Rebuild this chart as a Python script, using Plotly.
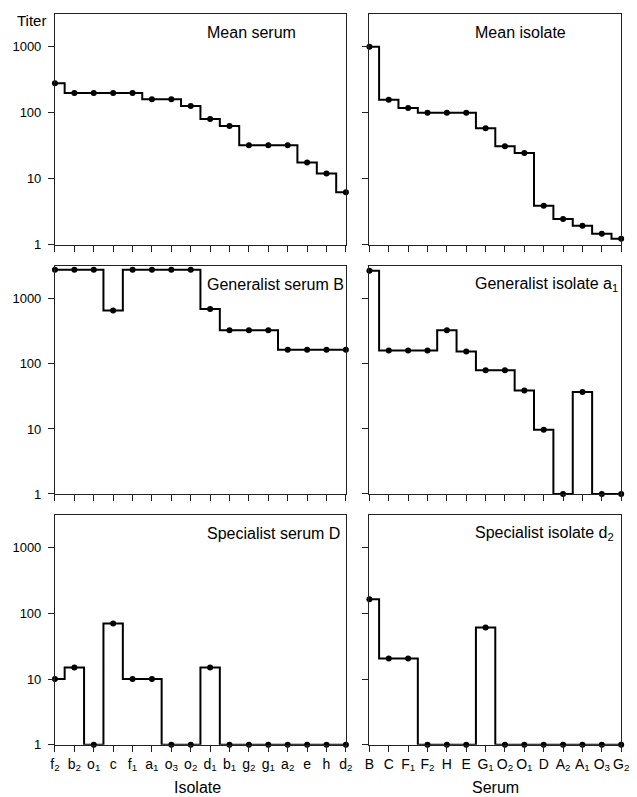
import plotly.graph_objects as go

W, H = 637, 797

isolates = ["f<sub>2</sub>", "b<sub>2</sub>", "o<sub>1</sub>", "c", "f<sub>1</sub>", "a<sub>1</sub>",
            "o<sub>3</sub>", "o<sub>2</sub>", "d<sub>1</sub>", "b<sub>1</sub>", "g<sub>2</sub>",
            "g<sub>1</sub>", "a<sub>2</sub>", "e", "h", "d<sub>2</sub>"]
sera = ["B", "C", "F<sub>1</sub>", "F<sub>2</sub>", "H", "E", "G<sub>1</sub>", "O<sub>2</sub>",
        "O<sub>1</sub>", "D", "A<sub>2</sub>", "A<sub>1</sub>", "O<sub>3</sub>", "G<sub>2</sub>"]

mean_serum = [281, 200, 200, 200, 200, 160, 160, 126, 80, 63, 32, 32, 32, 17.5, 12, 6.2]
mean_isolate = [1000, 157, 118, 100, 100, 100, 58, 31, 24.5, 3.86, 2.43, 1.93, 1.46, 1.22]
generalist_serum_B = [2800, 2800, 2800, 660, 2800, 2800, 2800, 2800, 700, 330, 330, 330, 165, 165, 165, 165]
generalist_isolate_a1 = [2700, 160, 160, 160, 330, 155, 80, 80, 39, 9.7, 1, 37, 1, 1]
specialist_serum_D = [10, 15, 1, 70, 10, 10, 1, 1, 15, 1, 1, 1, 1, 1, 1, 1]
specialist_isolate_d2 = [164, 20.6, 20.6, 1, 1, 1, 61, 1, 1, 1, 1, 1, 1, 1]

titles = ["Mean serum", "Mean isolate",
          "Generalist serum B", "Generalist isolate a<sub>1</sub>",
          "Specialist serum D", "Specialist isolate d<sub>2</sub>"]

panels = [
    (isolates, mean_serum), (sera, mean_isolate),
    (isolates, generalist_serum_B), (sera, generalist_isolate_a1),
    (isolates, specialist_serum_D), (sera, specialist_isolate_d2),
]

FONT = "Liberation Sans, Arial, Helvetica, sans-serif"

# pixel layout
col_px = [(51, 348), (372, 629)]
row_px = [(14, 247), (269, 499), (520, 752.3)]

def px_x(p):
    return p / W

def px_y(p):
    return 1 - p / H

fig = go.Figure()
layout = dict(
    width=W, height=H, margin=dict(l=0, r=0, t=0, b=0),
    paper_bgcolor="white", plot_bgcolor="white",
    showlegend=False, font=dict(family=FONT, color="black", size=14),
    annotations=[],
)

for i, (cats, vals) in enumerate(panels):
    r, c = divmod(i, 2)
    k = i + 1
    xname = "x" if k == 1 else f"x{k}"
    yname = "y" if k == 1 else f"y{k}"
    fig.add_trace(go.Scatter(
        x=cats, y=vals, mode="lines+markers", line_shape="hvh",
        line=dict(color="black", width=2),
        marker=dict(color="black", size=6),
        cliponaxis=False, xaxis=xname, yaxis=yname,
    ))
    x0, x1 = col_px[c]
    y0, y1 = row_px[r]
    ax_common = dict(showgrid=False, zeroline=False, showline=True, mirror=True,
                     linecolor="#222", linewidth=1, ticks="outside", ticklen=6,
                     tickcolor="#222", tickwidth=1)
    layout["xaxis" + ("" if k == 1 else str(k))] = dict(
        domain=[px_x(x0), px_x(x1)], anchor=yname, type="category",
        range=[0, len(cats) - 1], showticklabels=(r == 2),
        tickfont=dict(size=14, family=FONT), **ax_common)
    layout["yaxis" + ("" if k == 1 else str(k))] = dict(
        domain=[px_y(y1), px_y(y0)], anchor=xname, type="log", range=[0, 3.5],
        tickvals=[1, 10, 100, 1000], ticktext=["1", "10", "100", "1000"],
        showticklabels=(c == 0), ticklabelstandoff=4,
        tickfont=dict(size=13, family=FONT), **ax_common)
    # panel title
    tx = 204 if c == 0 else 478
    layout["annotations"].append(dict(
        text=titles[i], xref="paper", yref="paper", x=px_x(tx), y=px_y(y0 + 18.5),
        xanchor="left", yanchor="middle", showarrow=False,
        font=dict(size=16, family=FONT, color="black")))

layout["annotations"] += [
    dict(text="Titer", xref="paper", yref="paper", x=px_x(10), y=px_y(20.7),
         xanchor="left", yanchor="middle", showarrow=False,
         font=dict(size=15, family=FONT, color="black")),
    dict(text="Isolate", xref="paper", yref="paper", x=px_x(197), y=px_y(795),
         xanchor="center", yanchor="middle", showarrow=False,
         font=dict(size=16, family=FONT, color="black")),
    dict(text="Serum", xref="paper", yref="paper", x=px_x(500.5), y=px_y(795),
         xanchor="center", yanchor="middle", showarrow=False,
         font=dict(size=16, family=FONT, color="black")),
]

fig.update_layout(**layout)
fig.write_html("out.html", config={"displayModeBar": False},
               post_script="document.body.style.margin='0';document.body.style.overflow='hidden';")
